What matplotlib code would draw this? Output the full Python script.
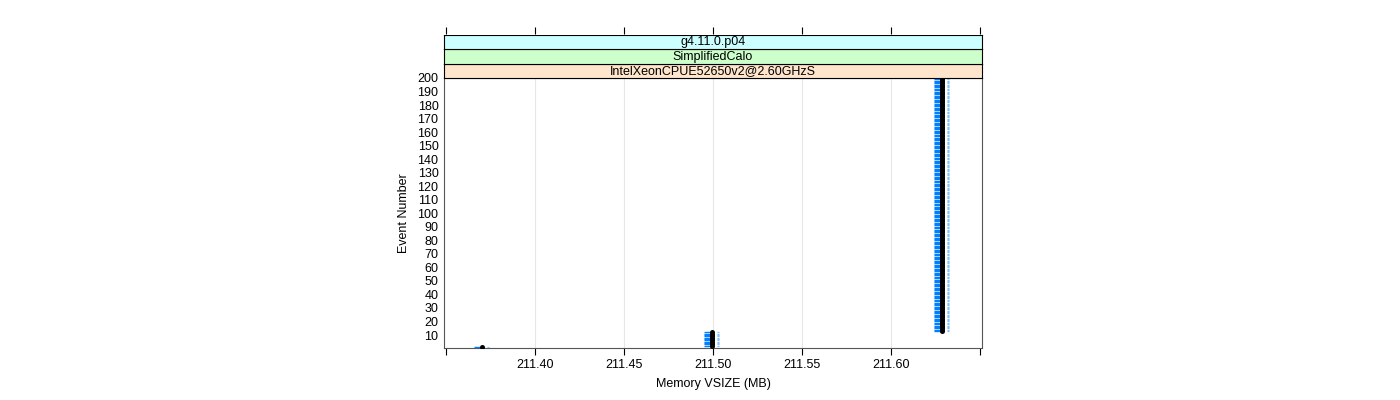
import matplotlib
matplotlib.use("Agg")
import matplotlib.pyplot as plt
from matplotlib.transforms import offset_copy

# event number -> memory VSIZE (MB)
events = list(range(1, 201))
vsize = [211.3705] + [211.4997] * 11 + [211.6285] * 188

strips = ["g4.11.0.p04", "SimplifiedCalo", "IntelXeonCPUE52650v2@2.60GHzS"]
strip_colors = ["#ccffff", "#ccffcc", "#ffe5cc"]

xticks = [211.35, 211.40, 211.45, 211.50, 211.55, 211.60, 211.65]
xlabels = ["", "211.40", "211.45", "211.50", "211.55", "211.60", ""]
yticks = list(range(10, 201, 10))

plt.rcParams["font.family"] = ["Liberation Sans", "DejaVu Sans"]
plt.rcParams["font.size"] = 9

fig = plt.figure(figsize=(14, 4), dpi=100)
W, H = 1400, 400
left, right, top, bottom = 444, 982, 78, 348
px = 0.72  # points per pixel at dpi 100
ax = fig.add_axes([left / W, 1 - bottom / H, (right - left) / W, (bottom - top) / H])

# solid blue dash left of each point, pale blue sliver to the right
tr_l = offset_copy(ax.transData, fig=fig, x=-5, y=0, units="dots")
tr_r = offset_copy(ax.transData, fig=fig, x=6, y=0, units="dots")
ax.plot(vsize, events, ls="none", marker="_", ms=7 * px, mew=1.4 * px,
        color="#0080ff", transform=tr_l, zorder=3)
ax.plot(vsize, events, ls="none", marker="_", ms=2.5 * px, mew=1.2 * px,
        color="#80bfff", transform=tr_r, zorder=3)
ax.plot(vsize, events, ls="none", marker="o", ms=5 * px, mew=0,
        color="black", zorder=4)

ax.set_xlim(211.349, 211.651)
ax.set_ylim(0.4, 200)
for gx in xticks[1:-1]:
    ax.axvline(gx, color="#e6e6e6", lw=0.8, zorder=0)

ax.set_xticks(xticks)
ax.set_xticklabels(xlabels)
ax.set_yticks(yticks)
ax.tick_params(axis="y", length=0, pad=4)
ax.tick_params(axis="x", top=False, length=5, width=0.8, direction="out", pad=3)
for s in ax.spines.values():
    s.set_color("#555555")
    s.set_linewidth(0.8)

ax.set_xlabel("Memory VSIZE (MB)", labelpad=5)
ax.set_ylabel("Event Number", labelpad=5)

# strips above the panel
sh = 14.5
for i, (txt, c) in enumerate(zip(reversed(strips), reversed(strip_colors))):
    y0 = top - sh * (i + 1)
    sax = fig.add_axes([left / W, 1 - (y0 + sh) / H, (right - left) / W, sh / H])
    sax.set_facecolor(c)
    sax.set_xticks([])
    sax.set_yticks([])
    for s in sax.spines.values():
        s.set_linewidth(0.8)
    sax.text(0.5, 0.45, txt, ha="center", va="center", transform=sax.transAxes)

# top ticks sit above the strips
tax = fig.add_axes([left / W, 1 - (top - 3 * sh) / H, (right - left) / W, 0.0001])
tax.set_xlim(ax.get_xlim())
tax.set_xticks(xticks)
tax.set_xticklabels([])
tax.set_yticks([])
tax.tick_params(axis="x", bottom=False, top=True, length=5, width=0.8)
for s in tax.spines.values():
    s.set_visible(False)

fig.savefig("out.png", dpi=100)
